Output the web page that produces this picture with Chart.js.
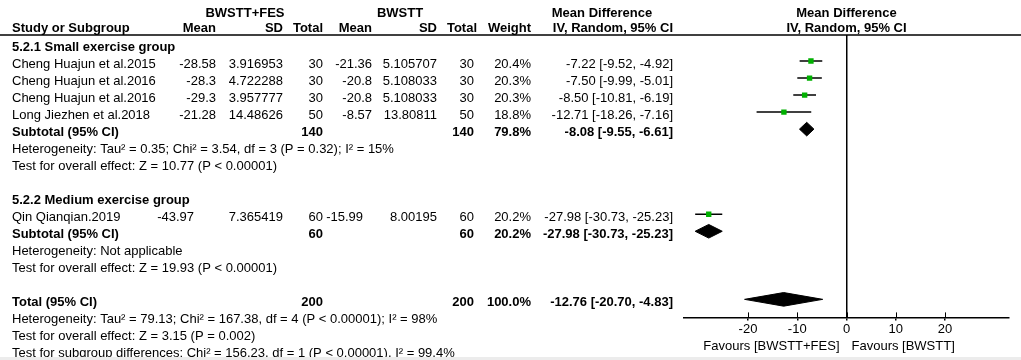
<!DOCTYPE html>
<html>
<head>
<meta charset="utf-8">
<script src="https://cdn.jsdelivr.net/npm/chart.js@4/dist/chart.umd.min.js"></script>
<style>
body { margin: 0; background: #ececec; }
canvas { display: block; background: #fff; }
</style>
</head>
<body>
<canvas id="forestPlot" width="1021" height="357"></canvas>
<script>
// studies
var studies = ['Cheng Huajun et al.2015', 'Cheng Huajun et al.2016', 'Cheng Huajun et al.2016', 'Long Jiezhen et al.2018', 'Qin Qianqian.2019'];
var studyRow = [1, 2, 3, 4, 10];
var expMean = [-28.58, -28.3, -29.3, -21.28, -43.97];
var expSD = [3.916953, 4.722288, 3.957777, 14.48626, 7.365419];
var expN = [30, 30, 30, 50, 60];
var ctlMean = [-21.36, -20.8, -20.8, -8.57, -15.99];
var ctlSD = [5.105707, 5.108033, 5.108033, 13.80811, 8.00195];
var ctlN = [30, 30, 30, 50, 60];
var weight = [20.4, 20.3, 20.3, 18.8, 20.2];
var md = [-7.22, -7.50, -8.50, -12.71, -27.98];
var mdLow = [-9.52, -9.99, -10.81, -18.26, -30.73];
var mdHigh = [-4.92, -5.01, -6.19, -7.16, -25.23];

// subgroups + total
var groupNames = ['5.2.1 Small exercise group', '5.2.2 Medium exercise group'];
var groupRow = [0, 9];
var sumNames = ['Subtotal (95% CI)', 'Subtotal (95% CI)', 'Total (95% CI)'];
var sumRow = [5, 11, 15];
var sumExpN = [140, 60, 200];
var sumCtlN = [140, 60, 200];
var sumWeight = [79.8, 20.2, 100.0];
var sumMd = [-8.08, -27.98, -12.76];
var sumLow = [-9.55, -30.73, -20.70];
var sumHigh = [-6.61, -25.23, -4.83];

var notes = [
  'Heterogeneity: Tau\u00b2 = 0.35; Chi\u00b2 = 3.54, df = 3 (P = 0.32); I\u00b2 = 15%',
  'Test for overall effect: Z = 10.77 (P < 0.00001)',
  'Heterogeneity: Not applicable',
  'Test for overall effect: Z = 19.93 (P < 0.00001)',
  'Heterogeneity: Tau\u00b2 = 79.13; Chi\u00b2 = 167.38, df = 4 (P < 0.00001); I\u00b2 = 98%',
  'Test for overall effect: Z = 3.15 (P = 0.002)',
  'Test for subgroup differences: Chi\u00b2 = 156.23, df = 1 (P < 0.00001), I\u00b2 = 99.4%'
];
var noteRow = [6, 7, 12, 13, 16, 17, 18];

var xTicks = [-20, -10, 0, 10, 20];
var FONT = '"Liberation Sans", Arial, sans-serif';

var datasets = [];
// green squares first so they sit on top of the CI lines
datasets.push({
  data: md.map(function (v, i) { return { x: v, y: studyRow[i] }; }),
  pointStyle: 'rect',
  pointRadius: 3.8,
  backgroundColor: '#00b000',
  borderColor: '#00a000',
  borderWidth: 0,
  showLine: false
});
md.forEach(function (v, i) {
  datasets.push({
    data: [{ x: mdLow[i], y: studyRow[i] }, { x: mdHigh[i], y: studyRow[i] }],
    showLine: true,
    borderColor: '#000',
    borderWidth: 1.5,
    pointRadius: 0
  });
});
var dh = 0.4;
sumMd.forEach(function (v, i) {
  var r = sumRow[i];
  datasets.push({
    data: [{ x: sumLow[i], y: r }, { x: v, y: r - dh }, { x: sumHigh[i], y: r }, { x: v, y: r + dh }, { x: sumLow[i], y: r }],
    showLine: true,
    fill: 'shape',
    backgroundColor: '#000',
    borderColor: '#000',
    borderWidth: 1,
    pointRadius: 0,
    tension: 0
  });
});

var tablePlugin = {
  id: 'table',
  afterDraw: function (chart) {
    var ctx = chart.ctx, ys = chart.scales.y, xs = chart.scales.x, area = chart.chartArea;
    function put(txt, px, r, align, bold) {
      ctx.font = (bold ? 'bold ' : '') + '13px ' + FONT;
      ctx.textAlign = align;
      ctx.textBaseline = 'alphabetic';
      ctx.fillStyle = '#000';
      ctx.fillText(txt, px, ys.getPixelForValue(r) + 7);
    }
    ctx.save();
    // header
    put('BWSTT+FES', 245, -2, 'center', true);
    put('BWSTT', 400, -2, 'center', true);
    put('Mean Difference', 602, -2, 'center', true);
    put('Mean Difference', xs.getPixelForValue(0), -2, 'center', true);
    put('Study or Subgroup', 12, -1.1, 'left', true);
    put('Mean', 216, -1.1, 'right', true);
    put('SD', 283, -1.1, 'right', true);
    put('Total', 323, -1.1, 'right', true);
    put('Mean', 372, -1.1, 'right', true);
    put('SD', 437, -1.1, 'right', true);
    put('Total', 477, -1.1, 'right', true);
    put('Weight', 531, -1.1, 'right', true);
    put('IV, Random, 95% CI', 673, -1.1, 'right', true);
    put('IV, Random, 95% CI', xs.getPixelForValue(0), -1.1, 'center', true);

    ctx.strokeStyle = '#000';
    ctx.lineWidth = 1.5;
    ctx.beginPath();
    ctx.moveTo(0, area.top);
    ctx.lineTo(1021, area.top);
    ctx.stroke();

    // small tick stubs above the axis line, at the axis tick positions
    ctx.lineWidth = 1;
    xs.ticks.forEach(function (t) {
      var px = Math.round(xs.getPixelForValue(t.value)) + 0.5;
      ctx.beginPath();
      ctx.moveTo(px, area.bottom - 5);
      ctx.lineTo(px, area.bottom);
      ctx.stroke();
    });

    groupNames.forEach(function (g, i) { put(g, 12, groupRow[i], 'left', true); });
    studies.forEach(function (s, i) {
      var r = studyRow[i];
      // the single medium-group row sits a little left in the source table
      var shiftE = r === 10 ? 22 : 0, shiftC = r === 10 ? 9 : 0;
      put(s, 12, r, 'left', false);
      put(String(expMean[i]), 216 - shiftE, r, 'right', false);
      put(String(expSD[i]), 283, r, 'right', false);
      put(String(expN[i]), 323, r, 'right', false);
      put(String(ctlMean[i]), 372 - shiftC, r, 'right', false);
      put(String(ctlSD[i]), 437, r, 'right', false);
      put(String(ctlN[i]), 474, r, 'right', false);
      put(weight[i].toFixed(1) + '%', 531, r, 'right', false);
      put(md[i].toFixed(2) + ' [' + mdLow[i].toFixed(2) + ', ' + mdHigh[i].toFixed(2) + ']', 673, r, 'right', false);
    });
    sumNames.forEach(function (s, i) {
      var r = sumRow[i];
      put(s, 12, r, 'left', true);
      put(String(sumExpN[i]), 323, r, 'right', true);
      put(String(sumCtlN[i]), 474, r, 'right', true);
      put(sumWeight[i].toFixed(1) + '%', 531, r, 'right', true);
      put(sumMd[i].toFixed(2) + ' [' + sumLow[i].toFixed(2) + ', ' + sumHigh[i].toFixed(2) + ']', 673, r, 'right', true);
    });
    notes.forEach(function (n, i) { put(n, 12, noteRow[i], 'left', false); });

    // favours labels under the axis
    ctx.font = '13px ' + FONT;
    ctx.textBaseline = 'alphabetic';
    var x0 = xs.getPixelForValue(0);
    ctx.textAlign = 'right';
    ctx.fillText('Favours [BWSTT+FES]', x0 - 7, area.bottom + 33);
    ctx.textAlign = 'left';
    ctx.fillText('Favours [BWSTT]', x0 + 5, area.bottom + 33);
    ctx.restore();
  }
};

new Chart('forestPlot', {
  type: 'scatter',
  data: { datasets: datasets },
  options: {
    responsive: false,
    animation: false,
    devicePixelRatio: 1,
    events: [],
    layout: { padding: { left: 684, right: 12, top: 35, bottom: 19 } },
    plugins: { legend: { display: false }, tooltip: { enabled: false } },
    scales: {
      x: {
        type: 'linear',
        min: -33,
        max: 33,
        afterBuildTicks: function (axis) {
          axis.ticks = xTicks.map(function (v) { return { value: v }; });
        },
        ticks: { color: '#000', padding: 1, font: { family: FONT, size: 13 } },
        grid: {
          color: function (c) { return c.tick && c.tick.value === 0 ? '#000' : 'rgba(0,0,0,0)'; },
          tickColor: '#000',
          tickLength: 3,
          lineWidth: 1.5
        },
        border: { display: true, color: '#000', width: 1.5 }
      },
      y: {
        display: false,
        reverse: true,
        min: -0.53,
        max: 16.06
      }
    }
  },
  plugins: [tablePlugin]
});
</script>
</body>
</html>
